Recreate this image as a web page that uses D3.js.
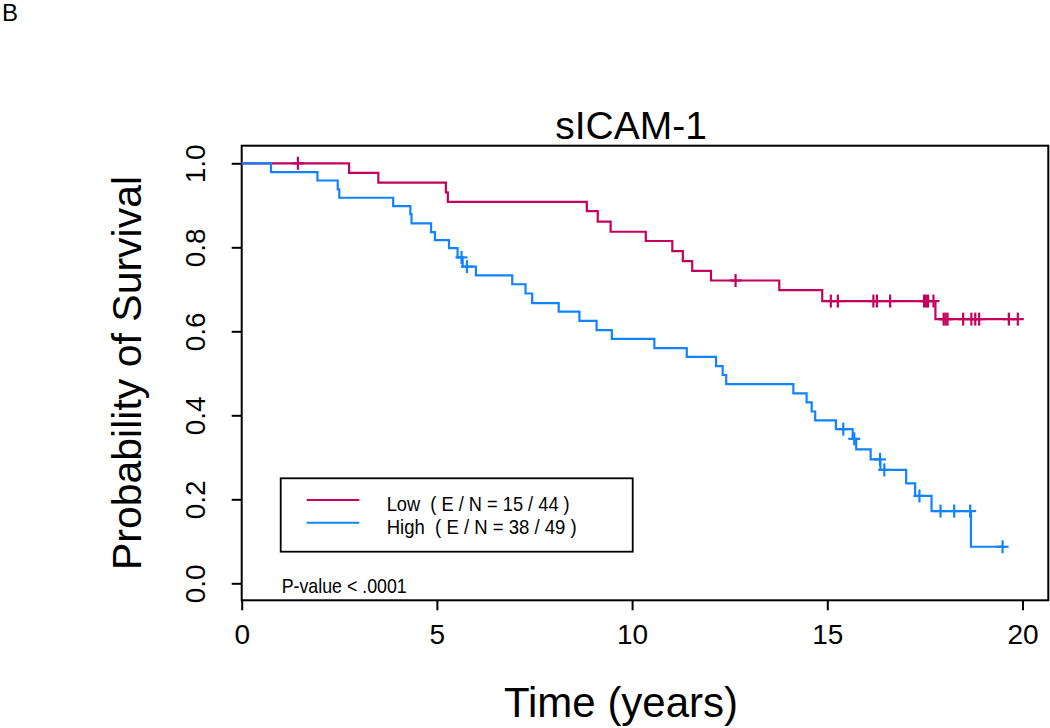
<!DOCTYPE html>
<html>
<head>
<meta charset="utf-8">
<script src="https://cdn.jsdelivr.net/npm/d3@7"></script>
<style>
  html, body { margin: 0; padding: 0; background: #fff; }
  svg { display: block; font-family: "Liberation Sans", Arial, sans-serif; }
</style>
</head>
<body>
<svg id="chart" width="1050" height="728"></svg>
<script>
// ---- Data (Kaplan-Meier step curves) ----
const lowTimes = [0, 2.75, 3.50, 5.23, 5.28, 8.84, 9.12, 9.45, 10.35, 11.03, 11.30, 11.54, 12.02, 13.77, 14.87, 17.77, 19.88];
const lowSurv  = [1, 0.977, 0.954, 0.931, 0.908, 0.886, 0.861, 0.837, 0.815, 0.791, 0.767, 0.744, 0.721, 0.698, 0.672, 0.629, 0.629];
const lowCensor = [1.44, 12.65, 15.09, 15.27, 16.18, 16.27, 16.61, 17.48, 17.53, 17.58, 17.72, 17.98, 18.03, 18.08, 18.48, 18.69, 18.79, 18.89, 19.65, 19.88];

const highTimes = [0, 0.75, 1.94, 2.46, 2.50, 3.88, 4.32, 4.35, 4.85, 4.95, 5.31, 5.53, 5.66, 6.00, 6.93, 7.27, 7.44, 8.12, 8.65, 9.09, 9.48, 10.57, 11.40, 12.15, 12.32, 12.41, 14.13, 14.47, 14.60, 14.69, 15.22, 15.65, 15.74, 16.11, 16.36, 17.02, 17.25, 17.67, 18.68, 19.49];
const highSurv  = [1, 0.979, 0.959, 0.938, 0.918, 0.898, 0.879, 0.857, 0.836, 0.817, 0.798, 0.776, 0.754, 0.733, 0.712, 0.690, 0.667, 0.647, 0.625, 0.603, 0.582, 0.560, 0.539, 0.517, 0.496, 0.474, 0.452, 0.431, 0.409, 0.388, 0.367, 0.344, 0.319, 0.295, 0.270, 0.238, 0.208, 0.172, 0.087, 0.087];
const highCensor = [5.63, 5.77, 15.41, 15.69, 16.35, 16.46, 17.36, 17.90, 18.25, 18.66, 19.49];

const xTicks = [0, 5, 10, 15, 20];
const yTicks = [0.0, 0.2, 0.4, 0.6, 0.8, 1.0];
const seriesNames = ["Low", "High"];
const legendLabels = ["Low  ( E / N = 15 / 44 )", "High  ( E / N = 38 / 49 )"];
const titleText = "sICAM-1";
const xTitle = "Time (years)";
const yTitle = "Probability of Survival";
const pValueText = "P-value < .0001";
const panelLabel = "B";

const colors = { Low: "#c4005e", High: "#1183ff" };

// ---- Layout ----
const svg = d3.select("#chart");
const frame = { left: 241.7, right: 1048.3, top: 145.7, bottom: 600.3 };
const x = d3.scaleLinear().domain([0, 20]).range([241.7, 1022.5]);
const y = d3.scaleLinear().domain([0, 1]).range([583.3, 163.3]);

// frame box
svg.append("rect")
  .attr("x", frame.left).attr("y", frame.top)
  .attr("width", frame.right - frame.left).attr("height", frame.bottom - frame.top)
  .attr("fill", "none").attr("stroke", "#000").attr("stroke-width", 2);

// x axis ticks
const xAxis = d3.axisBottom(x).tickValues(xTicks).tickSize(10).tickPadding(14).tickFormat(d3.format("d"));
const gx = svg.append("g").attr("transform", `translate(0,${frame.bottom})`).call(xAxis);
gx.select(".domain").remove();
gx.selectAll(".tick line").attr("stroke", "#000").attr("stroke-width", 2);
gx.selectAll(".tick text").attr("font-size", 28).attr("fill", "#000")
  .attr("font-family", "Liberation Sans, Arial, sans-serif");

// y axis ticks
const yAxis = d3.axisLeft(y).tickValues(yTicks).tickSize(10).tickPadding(0).tickFormat(d3.format(".1f"));
const gy = svg.append("g").attr("transform", `translate(${frame.left},0)`).call(yAxis);
gy.select(".domain").remove();
gy.selectAll(".tick line").attr("stroke", "#000").attr("stroke-width", 2);
gy.selectAll(".tick text")
  .attr("x", null).attr("dy", null)
  .attr("text-anchor", "middle")
  .attr("transform", "translate(-37,0) rotate(-90)")
  .attr("font-size", 28).attr("fill", "#000")
  .attr("font-family", "Liberation Sans, Arial, sans-serif");

// curves
const line = d3.line().x(d => x(d[0])).y(d => y(d[1])).curve(d3.curveStepAfter);
function survAt(times, surv, t) {
  const i = d3.bisectRight(times, t) - 1;
  return surv[Math.max(0, i)];
}
const series = [
  { name: "Low", times: lowTimes, surv: lowSurv, censor: lowCensor },
  { name: "High", times: highTimes, surv: highSurv, censor: highCensor }
];
series.forEach(s => {
  const pts = s.times.map((t, i) => [t, s.surv[i]]);
  svg.append("path").datum(pts).attr("d", line)
    .attr("fill", "none").attr("stroke", colors[s.name]).attr("stroke-width", 2.2);
  const cg = svg.append("g");
  s.censor.forEach(t => {
    const cx = x(t), cy = y(survAt(s.times, s.surv, t));
    cg.append("line").attr("x1", cx - 6).attr("x2", cx + 6).attr("y1", cy).attr("y2", cy)
      .attr("stroke", colors[s.name]).attr("stroke-width", 2.2);
    cg.append("line").attr("x1", cx).attr("x2", cx).attr("y1", cy - 6.5).attr("y2", cy + 6.5)
      .attr("stroke", colors[s.name]).attr("stroke-width", 2.2);
  });
});

// legend
const lg = svg.append("g");
lg.append("rect").attr("x", 280.7).attr("y", 478.3).attr("width", 352).attr("height", 73.4)
  .attr("fill", "none").attr("stroke", "#000").attr("stroke-width", 1.8);
const legY = [500, 522.7];
const legW = [183, 190];
seriesNames.forEach((n, i) => {
  lg.append("line").attr("x1", 306.7).attr("x2", 359.3).attr("y1", legY[i]).attr("y2", legY[i])
    .attr("stroke", colors[n]).attr("stroke-width", 2);
  lg.append("text").attr("x", 386.7).attr("y", legY[i] + 10.8)
    .attr("font-size", 21).attr("fill", "#000")
    .attr("xml:space", "preserve")
    .attr("textLength", legW[i]).attr("lengthAdjust", "spacingAndGlyphs")
    .text(legendLabels[i]);
});

// p-value
svg.append("text").attr("x", 281.7).attr("y", 593.3).attr("font-size", 21)
  .attr("textLength", 125).attr("lengthAdjust", "spacingAndGlyphs")
  .text(pValueText);

// titles
svg.append("text").attr("x", 631).attr("y", 139).attr("text-anchor", "middle")
  .attr("font-size", 39).text(titleText);
svg.append("text").attr("x", 621).attr("y", 717).attr("text-anchor", "middle")
  .attr("font-size", 42).text(xTitle);
svg.append("text").attr("transform", "translate(141,373) rotate(-90)").attr("text-anchor", "middle")
  .attr("font-size", 41).text(yTitle);
svg.append("text").attr("x", 2).attr("y", 21).attr("font-size", 24).text(panelLabel);
</script>
</body>
</html>
